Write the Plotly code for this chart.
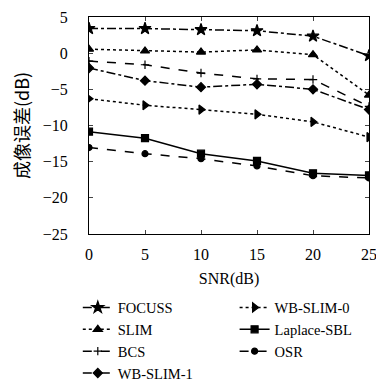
import plotly.graph_objects as go

snr = [0, 5, 10, 15, 20, 25]
focuss = [3.4, 3.4, 3.25, 3.1, 2.35, -0.35]
slim = [0.55, 0.3, 0.15, 0.45, -0.2, -5.8]
bcs = [-1.1, -1.6, -2.75, -3.55, -3.65, -7.35]
wbslim1 = [-2.05, -3.8, -4.7, -4.3, -5.0, -7.8]
wbslim0 = [-6.3, -7.2, -7.8, -8.45, -9.5, -11.6]
laplace = [-10.85, -11.75, -13.9, -14.9, -16.6, -16.9]
osr = [-13.05, -13.9, -14.6, -15.6, -16.95, -17.25]

names = ["FOCUSS", "SLIM", "BCS", "WB-SLIM-1", "WB-SLIM-0", "Laplace-SBL", "OSR"]
series = [focuss, slim, bcs, wbslim1, wbslim0, laplace, osr]
dashes = ["dashdot", "dot", "dash", "dashdot", "dot", "solid", "dash"]
symbols = ["star", "triangle-up", "cross-thin", "diamond", "triangle-right", "square", "circle"]
sizes = [9, 8, 6, 7, 8, 7, 6]
legends = ["legend", "legend", "legend", "legend", "legend2", "legend2", "legend2"]

fig = go.Figure()
for n, s, d, sym, sz, lg in zip(names, series, dashes, symbols, sizes, legends):
    fig.add_trace(go.Scatter(
        x=snr, y=s, name=n, mode="lines+markers",
        line=dict(color="black", width=1.5, dash=d),
        marker=dict(symbol=sym, size=sz, color="black",
                    line=dict(color="black", width=1.2)),
        legend=lg,
    ))

font = dict(family="Liberation Serif, DejaVu Serif, serif", size=16, color="black")
lfont = dict(family="Liberation Serif, DejaVu Serif, serif", size=14.5, color="black")

fig.update_layout(
    width=376, height=379,
    margin=dict(l=81, r=15, t=9, b=153, autoexpand=False),
    paper_bgcolor="white", plot_bgcolor="white",
    font=font,
    showlegend=True,
    legend=dict(x=-0.04, y=-0.265, xanchor="left", yanchor="top",
                bgcolor="rgba(0,0,0,0)", font=lfont, tracegroupgap=0,
                itemwidth=30),
    legend2=dict(x=0.52, y=-0.265, xanchor="left", yanchor="top",
                 bgcolor="rgba(0,0,0,0)", font=lfont, tracegroupgap=0,
                 itemwidth=30),
)
fig.update_xaxes(
    range=[0, 25], tickvals=snr, ticks="inside", ticklen=4,
    showline=True, linecolor="black", linewidth=1.2, mirror="ticks",
    showgrid=False, zeroline=False, automargin=False,
    ticklabelstandoff=6, ticklabeloverflow="allow",
    title=dict(text="SNR(dB)", font=font, standoff=10),
    tickfont=font,
)
fig.update_yaxes(
    range=[-25, 5], tickvals=[-25, -20, -15, -10, -5, 0, 5], ticks="inside", ticklen=4,
    showline=True, linecolor="black", linewidth=1.2, mirror="ticks",
    showgrid=False, zeroline=False, automargin=False,
    ticklabelstandoff=17, ticklabeloverflow="allow",
    title=dict(text="成像误差(dB)", font=dict(family="Noto Sans CJK SC, Liberation Serif", size=18, color="black"), standoff=27),
    tickfont=font,
)

fig.write_html("out.html")
